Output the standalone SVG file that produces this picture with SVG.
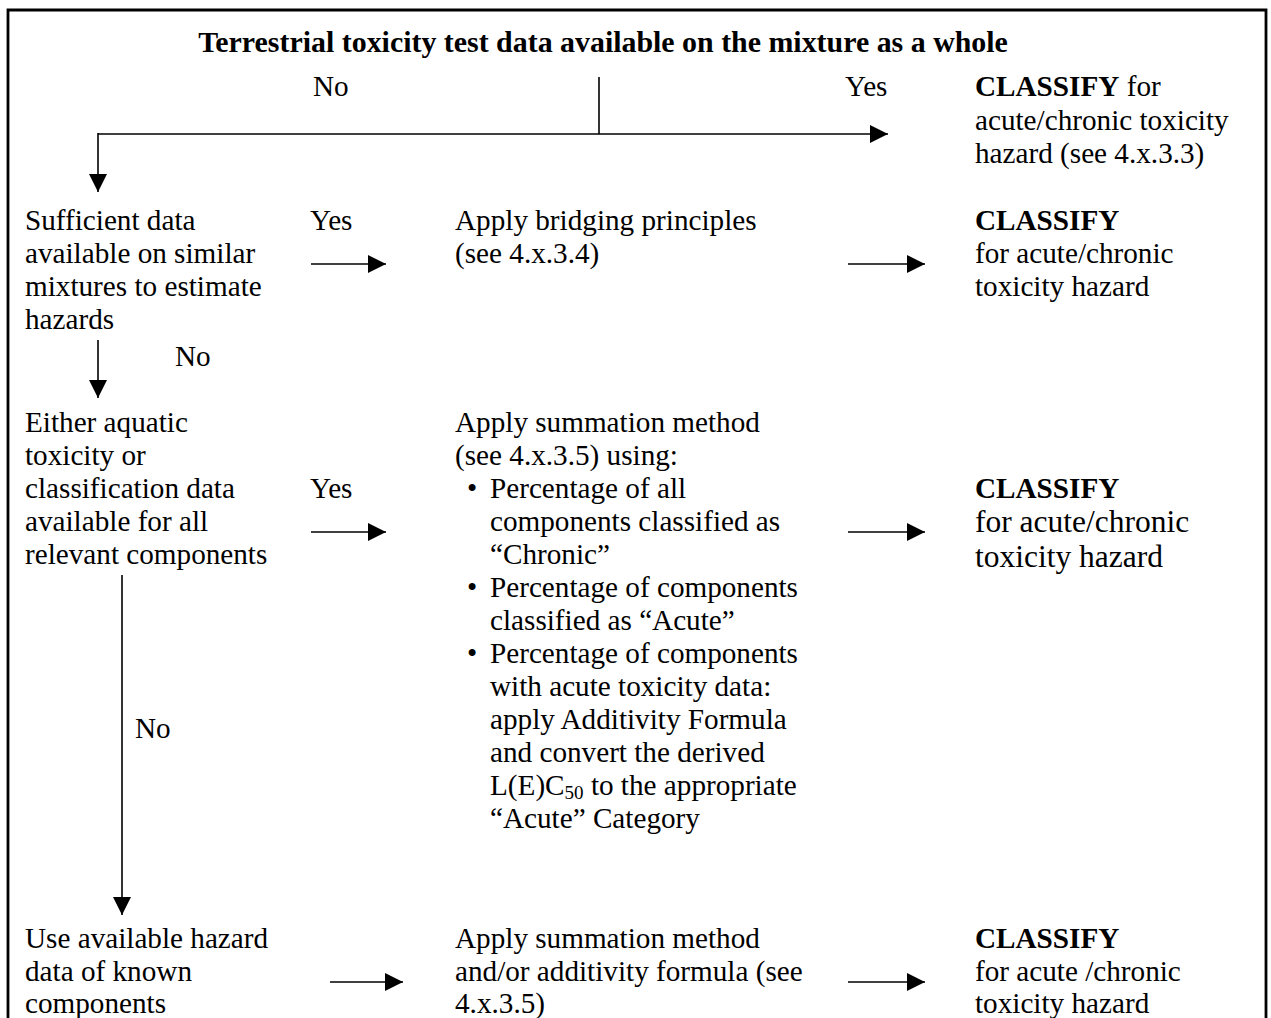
<svg xmlns="http://www.w3.org/2000/svg" width="1271" height="1018" viewBox="0 0 1271 1018">
<defs>
<marker id="ah" markerUnits="userSpaceOnUse" markerWidth="20" markerHeight="18" refX="18" refY="9" orient="auto">
<polygon points="0,0 18,9 0,18" fill="#000"/>
</marker>
<style>
text{font-family:"Liberation Serif","Times New Roman",serif;font-size:29.2px;fill:#000}
.b{font-weight:bold}
.t{font-size:29.9px}
.big{font-size:31.5px}
.c{stroke:#000;stroke-width:1.6;fill:none}
</style>
</defs>
<rect width="1271" height="1018" fill="#fff"/>
<path d="M8,1018 V10 H1266 V1018" fill="none" stroke="#000" stroke-width="2.8"/>
<g id="n-title"><text class="b t" x="603" y="52" text-anchor="middle">Terrestrial toxicity test data available on the mixture as a whole</text></g>
<g id="n-classify1"><text x="975" y="96"><tspan class="b">CLASSIFY</tspan> for</text><text x="975" y="130">acute/chronic toxicity</text><text x="975" y="163">hazard (see 4.x.3.3)</text></g>
<g id="n-sufficient"><text x="25" y="230">Sufficient data</text><text x="25" y="263">available on similar</text><text x="25" y="296">mixtures to estimate</text><text x="25" y="329">hazards</text></g>
<g id="n-bridging"><text x="455" y="230">Apply bridging principles</text><text x="455" y="263">(see 4.x.3.4)</text></g>
<g id="n-classify2"><text class="b" x="975" y="230">CLASSIFY</text><text x="975" y="263">for acute/chronic</text><text x="975" y="296">toxicity hazard</text></g>
<g id="n-either"><text x="25" y="432">Either aquatic</text><text x="25" y="465">toxicity or</text><text x="25" y="498">classification data</text><text x="25" y="531">available for all</text><text x="25" y="564">relevant components</text></g>
<g id="n-summation"><text x="455" y="432">Apply summation method</text><text x="455" y="465">(see 4.x.3.5) using:</text>
<text x="467" y="498">•</text><text x="490" y="498">Percentage of all</text><text x="490" y="531">components classified as</text><text x="490" y="564">“Chronic”</text>
<text x="467" y="597">•</text><text x="490" y="597">Percentage of components</text><text x="490" y="630">classified as “Acute”</text>
<text x="467" y="663">•</text><text x="490" y="663">Percentage of components</text><text x="490" y="696">with acute toxicity data:</text><text x="490" y="729">apply Additivity Formula</text><text x="490" y="762">and convert the derived</text><text x="490" y="795">L(E)C<tspan font-size="19" dy="4">50</tspan><tspan dy="-4"> to the appropriate</tspan></text><text x="490" y="828">“Acute” Category</text></g>
<g id="n-classify3"><text class="b" x="975" y="498">CLASSIFY</text><text class="big" x="975" y="532">for acute/chronic</text><text class="big" x="975" y="567">toxicity hazard</text></g>
<g id="n-use"><text x="25" y="948">Use available hazard</text><text x="25" y="981">data of known</text><text x="25" y="1013">components</text></g>
<g id="n-summation2"><text x="455" y="948">Apply summation method</text><text x="455" y="981">and/or additivity formula (see</text><text x="455" y="1013">4.x.3.5)</text></g>
<g id="n-classify4"><text class="b" x="975" y="948">CLASSIFY</text><text x="975" y="981">for acute /chronic</text><text x="975" y="1013">toxicity hazard</text></g>
<g id="connectors">
<text x="313" y="96">No</text>
<text x="845" y="96">Yes</text>
<line class="c" x1="599" y1="77" x2="599" y2="134"/>
<line class="c" x1="98" y1="134" x2="888" y2="134" stroke-width="2.2" marker-end="url(#ah)"/>
<line class="c" x1="98" y1="133" x2="98" y2="192" marker-end="url(#ah)"/>
<text x="310" y="230">Yes</text>
<line class="c" x1="311" y1="264" x2="386" y2="264" marker-end="url(#ah)"/>
<line class="c" x1="848" y1="264" x2="925" y2="264" marker-end="url(#ah)"/>
<line class="c" x1="98" y1="340" x2="98" y2="398" marker-end="url(#ah)"/>
<text x="175" y="366">No</text>
<text x="310" y="498">Yes</text>
<line class="c" x1="311" y1="532" x2="386" y2="532" marker-end="url(#ah)"/>
<line class="c" x1="848" y1="532" x2="925" y2="532" marker-end="url(#ah)"/>
<line class="c" x1="122" y1="575" x2="122" y2="915" marker-end="url(#ah)"/>
<text x="135" y="738">No</text>
<line class="c" x1="330" y1="982" x2="403" y2="982" marker-end="url(#ah)"/>
<line class="c" x1="848" y1="982" x2="925" y2="982" marker-end="url(#ah)"/>
</g>
</svg>
